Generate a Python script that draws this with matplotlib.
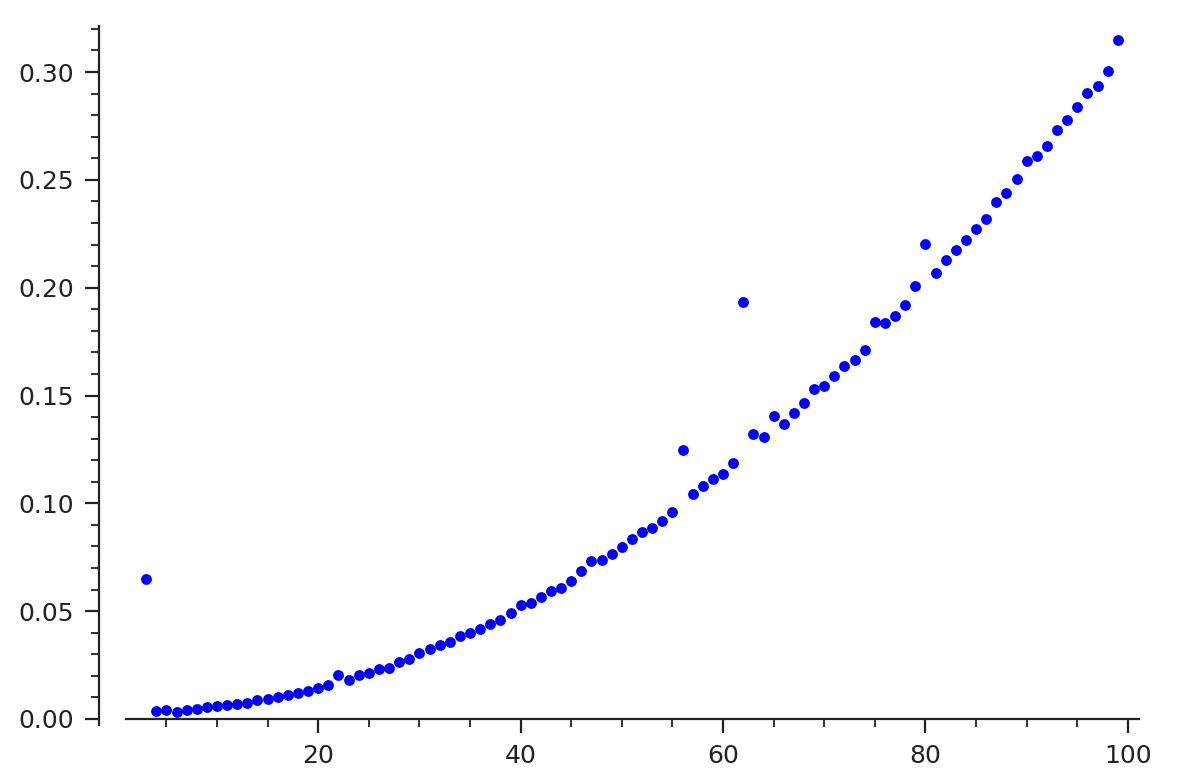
import matplotlib
matplotlib.use("Agg")
import matplotlib.pyplot as plt
from matplotlib.ticker import MultipleLocator, FixedLocator, FormatStrFormatter

x_values = list(range(3, 100))
y_values = [
    0.0648, 0.0039, 0.0040, 0.0034, 0.0042, 0.0046, 0.0054, 0.0062, 0.0065, 0.0070,
    0.0076, 0.0087, 0.0091, 0.0101, 0.0111, 0.0122, 0.0130, 0.0145, 0.0156, 0.0203,
    0.0181, 0.0203, 0.0212, 0.0232, 0.0237, 0.0262, 0.0277, 0.0304, 0.0326, 0.0342,
    0.0357, 0.0383, 0.0397, 0.0416, 0.0440, 0.0461, 0.0490, 0.0529, 0.0537, 0.0565,
    0.0592, 0.0609, 0.0639, 0.0688, 0.0734, 0.0738, 0.0765, 0.0797, 0.0834, 0.0868,
    0.0886, 0.0920, 0.0962, 0.1248, 0.1045, 0.1079, 0.1114, 0.1138, 0.1189, 0.1935,
    0.1322, 0.1308, 0.1406, 0.1369, 0.1418, 0.1466, 0.1529, 0.1546, 0.1590, 0.1636,
    0.1665, 0.1712, 0.1842, 0.1837, 0.1871, 0.1922, 0.2009, 0.2202, 0.2069, 0.2128,
    0.2177, 0.2219, 0.2272, 0.2318, 0.2398, 0.2440, 0.2502, 0.2587, 0.2609, 0.2658,
    0.2732, 0.2779, 0.2839, 0.2903, 0.2937, 0.3003, 0.3150,
]
x_major_ticks = [20, 40, 60, 80, 100]
x_minor_ticks = [5, 10, 15, 25, 30, 35, 45, 50, 55, 65, 70, 75, 85, 90, 95]

fig = plt.figure(figsize=(11.9, 7.78), dpi=100)
ax = fig.add_axes([99 / 1190, 53 / 778, 1040 / 1190, 699.3 / 778])

ax.plot(x_values, y_values, linestyle="none", marker="o", markersize=7.8,
        markeredgewidth=0, color=(0, 0, 1))

ax.set_xlim(-1.66, 101.1)
ax.set_ylim(-0.0028, 0.3215)

ax.spines["top"].set_visible(False)
ax.spines["right"].set_visible(False)
for s in ("left", "bottom"):
    ax.spines[s].set_linewidth(1.6)
    ax.spines[s].set_color("#222222")
ax.spines["bottom"].set_bounds(0.97, 101.1)
ax.spines["bottom"].set_position(("data", 0))

ax.xaxis.set_major_locator(FixedLocator(x_major_ticks))
ax.xaxis.set_minor_locator(FixedLocator(x_minor_ticks))
ax.yaxis.set_major_locator(MultipleLocator(0.05))
ax.yaxis.set_minor_locator(MultipleLocator(0.01))
ax.yaxis.set_major_formatter(FormatStrFormatter("%.2f"))

ax.tick_params(axis="both", which="major", length=10, width=1.6, labelsize=18,
               color="#222222", labelcolor="#222222", pad=8)
ax.tick_params(axis="both", which="minor", length=5.5, width=1.3, color="#222222")

fig.savefig("out.png", dpi=100)
